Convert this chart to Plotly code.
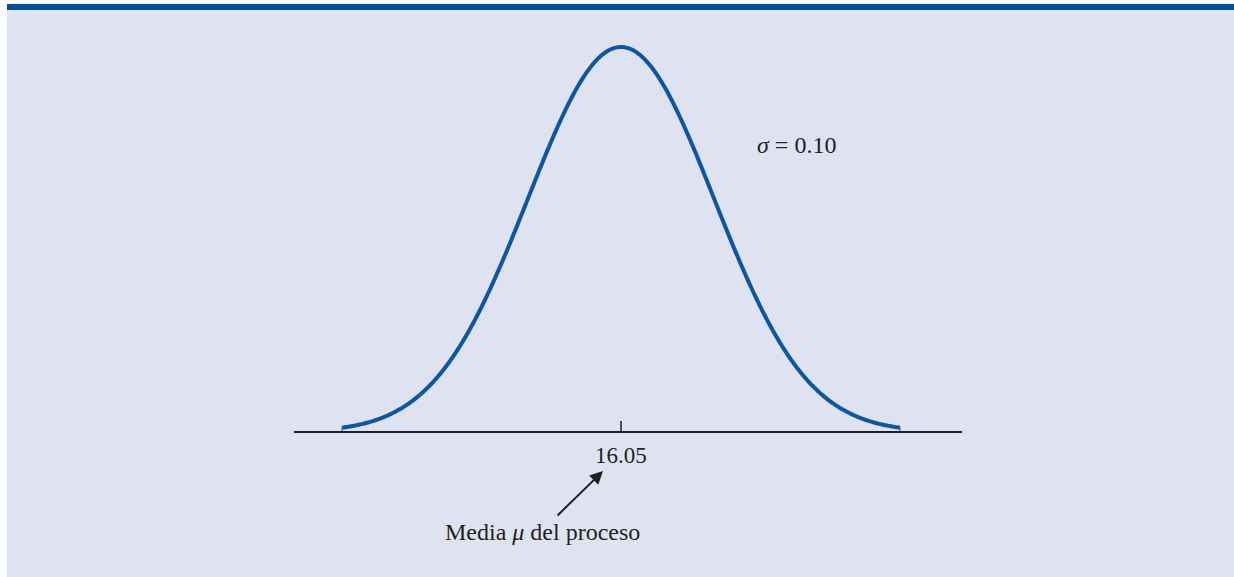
import numpy as np
import plotly.graph_objects as go

# Process parameters
mu = 16.05
sigma = 0.10
x_min = mu - 3 * sigma
x_max = mu + 3 * sigma
tick_vals = [16.05]
tick_text = ["16.05"]

xs = np.linspace(x_min, x_max, 600)
ys = np.exp(-0.5 * ((xs - mu) / sigma) ** 2) / (sigma * np.sqrt(2 * np.pi))
peak = 1 / (sigma * np.sqrt(2 * np.pi))

W, H = 1234, 577
# pixel mapping: mu -> 621px, 1 sigma -> 93px ; y=0 -> 432px, peak -> 47px
px_per_x = 93 / sigma
x0 = mu - 621 / px_per_x
x1 = mu + (W - 621) / px_per_x
px_per_y = 385 / peak
y1 = 432 / px_per_y
y0 = -(H - 432) / px_per_y

def px_x(p):
    return x0 + p / px_per_x

def px_y(p):
    return (432 - p) / px_per_y

blue = "#0c56a3"
ink = "#231f20"
fig = go.Figure()

# curve
fig.add_trace(go.Scatter(x=xs, y=ys, mode="lines",
                         line=dict(color=blue, width=4, simplify=False), hoverinfo="skip"))
# end connectors
for xe in (x_min, x_max):
    ye = np.exp(-0.5 * ((xe - mu) / sigma) ** 2) / (sigma * np.sqrt(2 * np.pi))
    fig.add_trace(go.Scatter(x=[xe, xe], y=[0, ye], mode="lines",
                             line=dict(color=blue, width=1), hoverinfo="skip"))

shapes = [
    # background panel
    dict(type="rect", xref="paper", yref="paper", x0=7 / W, x1=1, y0=0, y1=1 - 10 / H,
         fillcolor="#dfe3f1", line=dict(width=0), layer="below"),
    # top band
    dict(type="rect", xref="paper", yref="paper", x0=7 / W, x1=1, y0=1 - 10 / H, y1=1 - 4 / H,
         fillcolor="#00529f", line=dict(width=0), layer="below"),
    # axis line
    dict(type="line", xref="x", yref="y", x0=px_x(294), x1=px_x(962), y0=0, y1=0,
         line=dict(color=ink, width=2)),
]
for t in tick_vals:
    shapes.append(dict(type="line", xref="x", yref="y", x0=t, x1=t, y0=0, y1=px_y(421),
                       line=dict(color=ink, width=1.5)))

font_tick = dict(family="Liberation Serif", size=23, color=ink)
font = dict(family="Liberation Serif", size=24, color=ink)
annotations = []
for t, lab in zip(tick_vals, tick_text):
    annotations.append(dict(x=t, y=px_y(455), xref="x", yref="y", text=lab, showarrow=False,
                            font=font_tick))
annotations.append(dict(x=px_x(796), y=px_y(145), xref="x", yref="y",
                        text="<i>σ</i>\u00a0=\u00a00.10", showarrow=False, font=font))
annotations.append(dict(x=px_x(542), y=px_y(532), xref="x", yref="y",
                        text="Media <i>μ</i> del proceso", showarrow=False, font=font))
annotations.append(dict(x=px_x(603), y=px_y(471), ax=px_x(556), ay=px_y(517),
                        xref="x", yref="y", axref="x", ayref="y", text="",
                        showarrow=True, arrowhead=2, arrowsize=1.3, arrowwidth=2,
                        arrowcolor=ink))

fig.update_layout(
    width=W, height=H, margin=dict(l=0, r=0, t=0, b=0),
    paper_bgcolor="white", plot_bgcolor="rgba(0,0,0,0)",
    showlegend=False, shapes=shapes, annotations=annotations,
    xaxis=dict(range=[x0, x1], visible=False, fixedrange=True),
    yaxis=dict(range=[y0, y1], visible=False, fixedrange=True),
)
fig.write_html("out.html", config={"displayModeBar": False},
               post_script="document.body.style.margin='0';document.body.style.padding='0';")
